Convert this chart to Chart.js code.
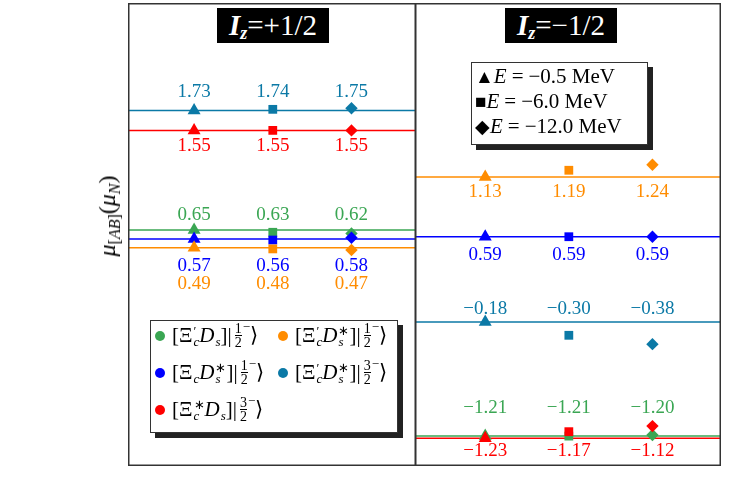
<!DOCTYPE html>
<html>
<head>
<meta charset="utf-8">
<script src="https://cdn.jsdelivr.net/npm/chart.js@4"></script>
<style>
  body { margin: 0; background: #fff; }
  #wrap { position: relative; width: 737px; height: 491px; font-family: "Liberation Serif", serif; }
  #wrap * { font-family: "Liberation Serif", serif; }
  canvas { position: absolute; top: 0; }
  #cl { left: 0; }
  #cr { left: 415px; }
  .title { position: absolute; top: 8px; width: 112px; height: 35px; background: #000; color: #fff;
           font-size: 29px; font-weight: normal; line-height: 35px; text-align: center; white-space: nowrap; }
  .title i { font-style: italic; font-weight: bold; }
  .title sub { font-size: 18px; vertical-align: -4px; }
  .legend { position: absolute; background: #fff; border: 1.5px solid #333; box-shadow: 5px 5px 0 #222;
            box-sizing: border-box; }
  .ytitle { position: absolute; left: 109px; top: 216px; transform: translate(-50%, -50%) rotate(-90deg);
            font-size: 24px; font-weight: normal; white-space: nowrap; }
  .ytitle i { font-style: italic; }
  .ytitle sub { font-size: 16px; vertical-align: -5px; }
  .entry { position: absolute; font-size: 21px; white-space: nowrap; display: flex; align-items: center; }
  .dot { width: 10px; height: 10px; border-radius: 50%; display: inline-block; margin-right: 7px; }
  .ss { display: inline-flex; flex-direction: column; font-size: 13px; line-height: 11px; vertical-align: middle; margin-left: 1px; }
  .frac { display: inline-flex; flex-direction: column; font-size: 14px; line-height: 13px; text-align: center;
          vertical-align: middle; margin: 0 1px 0 3px; }
  .frac span:first-child { border-bottom: 1px solid #000; }
  .m { font-size: 13px; position: relative; top: -9px; }
  .e { position: absolute; left: 3px; font-size: 21px; white-space: nowrap; }
  .e i { font-style: italic; }
  .e b { font-weight: normal; padding: 0 5px; }
  .e .mk { font-size: 19px; }
</style>
</head>
<body>
<div id="wrap">
  <canvas id="cl" width="416" height="491"></canvas>
  <canvas id="cr" width="322" height="491"></canvas>
  <div class="title" style="left:217px"><i>I<sub>z</sub></i>=+1/2</div>
  <div class="title" style="left:505px"><i>I<sub>z</sub></i>=−1/2</div>
  <div class="ytitle"><i>μ</i><sub>[<i>AB</i>]</sub>(<i>μ</i><sub><i>N</i></sub>)</div>
  <div class="legend" id="legL" style="left:150px; top:320px; width:248px; height:113px"></div>
  <div class="legend" id="legR" style="left:471px; top:62px; width:177px; height:83px"></div>
</div>
<script>
// x positions of the three binding energies
const xPos = [1, 2, 3];
const energyLabels = ['−0.5', '−6.0', '−12.0'];
const energyMarks = ['▲', '■', '◆'];

// I_z = +1/2
const izPlusTeal = [1.73, 1.74, 1.75];
const izPlusRed = [1.55, 1.55, 1.55];
const izPlusGreen = [0.65, 0.63, 0.62];
const izPlusBlue = [0.57, 0.56, 0.58];
const izPlusOrange = [0.49, 0.48, 0.47];

// I_z = -1/2
const izMinusOrange = [1.13, 1.19, 1.24];
const izMinusBlue = [0.59, 0.59, 0.59];
const izMinusTeal = [-0.18, -0.30, -0.38];
const izMinusGreen = [-1.21, -1.21, -1.20];
const izMinusRed = [-1.23, -1.17, -1.12];

const colors = { green: '#3aa653', orange: '#ff8c00', blue: '#0000ff', teal: '#0b79a6', red: '#ff0000' };

const X_MIN = 0.16, X_MAX = 3.82, Y_MIN = -1.48, Y_MAX = 2.70;

function fmt(v) {
  return (v < 0 ? '−' : '') + Math.abs(v).toFixed(2);
}

const frame = {
  id: 'frame',
  afterDraw(chart) {
    const { ctx, chartArea: a } = chart;
    ctx.save();
    ctx.strokeStyle = '#333';
    ctx.lineWidth = 1.5;
    ctx.strokeRect(a.left + 0.75, a.top + 0.75, a.right - a.left - 1.5, a.bottom - a.top - 1.5);
    ctx.restore();
  }
};

const valueLabels = {
  id: 'valueLabels',
  afterDatasetsDraw(chart, args, opts) {
    const { ctx, scales: { x, y } } = chart;
    ctx.save();
    ctx.font = '19px "Liberation Serif"';
    ctx.textAlign = 'center';
    ctx.textBaseline = 'middle';
    opts.rows.forEach(r => {
      const base = y.getPixelForValue(r.values[0]);
      ctx.fillStyle = r.color;
      r.values.forEach((v, i) => ctx.fillText(fmt(v), x.getPixelForValue(xPos[i]), base + r.offset));
    });
    ctx.restore();
  }
};

function makeDatasets(rows) {
  const sets = [];
  rows.forEach(r => {
    sets.push({
      type: 'line',
      data: [{ x: X_MIN, y: r.values[0] }, { x: X_MAX, y: r.values[0] }],
      borderColor: r.color, borderWidth: 1.5, pointRadius: 0, order: 2
    });
    sets.push({
      type: 'scatter',
      data: r.values.map((v, i) => ({ x: xPos[i], y: v })),
      backgroundColor: r.color, borderColor: r.color, borderWidth: 0,
      pointStyle: ['triangle', 'rect', 'rectRot'],
      pointRadius: [7.5, 6.2, 6.2],
      order: 1
    });
  });
  return sets;
}

function makeChart(id, rows, padding) {
  return new Chart(document.getElementById(id), {
    type: 'scatter',
    data: { datasets: makeDatasets(rows) },
    options: {
      responsive: false,
      animation: false,
      layout: { padding: padding, autoPadding: false },
      plugins: { legend: { display: false }, tooltip: { enabled: false }, valueLabels: { rows: rows } },
      scales: {
        x: { type: 'linear', min: X_MIN, max: X_MAX, display: false },
        y: { type: 'linear', min: Y_MIN, max: Y_MAX, display: false }
      }
    },
    plugins: [frame, valueLabels]
  });
}

makeChart('cl', [
  { values: izPlusTeal, color: colors.teal, offset: -18 },
  { values: izPlusRed, color: colors.red, offset: 16 },
  { values: izPlusOrange, color: colors.orange, offset: 36 },
  { values: izPlusBlue, color: colors.blue, offset: 27 },
  { values: izPlusGreen, color: colors.green, offset: -15 }
], { left: 128, top: 3, right: 0, bottom: 25 });

makeChart('cr', [
  { values: izMinusOrange, color: colors.orange, offset: 15 },
  { values: izMinusBlue, color: colors.blue, offset: 18 },
  { values: izMinusTeal, color: colors.teal, offset: -13 },
  { values: izMinusRed, color: colors.red, offset: 13 },
  { values: izMinusGreen, color: colors.green, offset: -28 }
], { left: 0, top: 3, right: 16, bottom: 25 });

// state legend
const half = '<span class="frac"><span>1</span><span>2</span></span><span class="m">−</span>⟩';
const threeHalf = '<span class="frac"><span>3</span><span>2</span></span><span class="m">−</span>⟩';
const xiP = 'Ξ<span class="ss"><span>′</span><span><i>c</i></span></span>';
const xiS = 'Ξ<span class="ss"><span>∗</span><span><i>c</i></span></span>';
const xi = 'Ξ<span class="ss"><span>&nbsp;</span><span><i>c</i></span></span>';
const ds = '<i>D</i><span class="ss"><span>&nbsp;</span><span><i>s</i></span></span>';
const dsS = '<i>D</i><span class="ss"><span>∗</span><span><i>s</i></span></span>';
const stateEntries = [
  { color: colors.green, html: '[' + xiP + ds + ']|' + half, left: 4, top: 1 },
  { color: colors.orange, html: '[' + xiP + dsS + ']|' + half, left: 127, top: 1 },
  { color: colors.blue, html: '[' + xi + dsS + ']|' + half, left: 4, top: 38 },
  { color: colors.teal, html: '[' + xiP + dsS + ']|' + threeHalf, left: 127, top: 38 },
  { color: colors.red, html: '[' + xiS + ds + ']|' + threeHalf, left: 4, top: 75 }
];
document.getElementById('legL').innerHTML = stateEntries.map(e =>
  '<div class="entry" style="left:' + e.left + 'px;top:' + e.top + 'px"><span class="dot" style="background:' +
  e.color + '"></span>' + e.html + '</div>').join('');

document.getElementById('legR').innerHTML = energyLabels.map((e, i) =>
  '<div class="e" style="top:' + (1 + i * 25) + 'px"><span class="mk">' + energyMarks[i] + '</span><i>E</i><b>=</b>' +
  e + ' MeV</div>').join('');
</script>
</body>
</html>
